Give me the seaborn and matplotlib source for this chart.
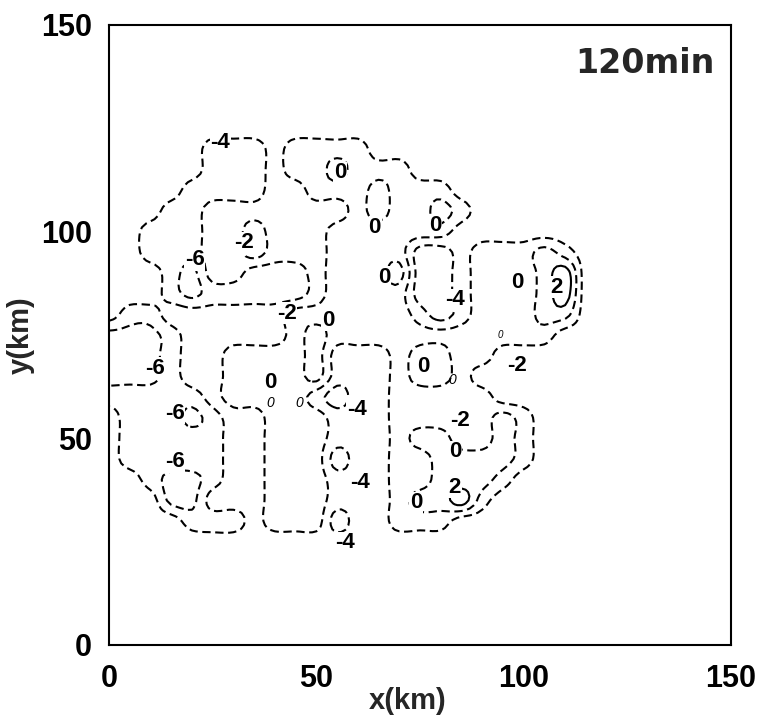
import numpy as np
import matplotlib
matplotlib.use("Agg")
import matplotlib.pyplot as plt
import seaborn as sns

# ---- data -------------------------------------------------------------
grid_step_km = 5
x_km = np.arange(0, 151, grid_step_km)
y_km = np.arange(0, 151, grid_step_km)
background_value = -3.0

# field, rows from y=125 km down to y=25 km,
# columns x = 0..120 km every 5 km (letters are value classes)
value_codes = {"a": -6.6, "b": -5.0, "c": -3.0, "d": -1.0, "e": 0.8, "f": 3.0}
field_rows = [
    "ccccccccccccccccccccccccc",  # 125
    "cccccbbbcddddcccccccccccc",  # 120
    "cccccbbbcddedddcccccccccc",  # 115
    "ccccbbbbccdddedddcccccccc",  # 110
    "cccbbcccccccdeddedccccccc",  # 105
    "ccbbbccdcccddddddcccccccc",  # 100
    "ccbbbccdcccddddbbcdddedcc",  # 95
    "cccbaccbbbcdddebbcdddefcc",  # 90
    "cccbabbbbbcddddbbcdddefcc",  # 85
    "cbbccccccddddddcbcdddeecc",  # 80
    "aaabcccccdedddddddddddccc",  # 75
    "aaabccddddecccdeeddcccccc",  # 70
    "aaabccddddecccdeedccccccc",  # 65
    "bbbbbcddddcbccdddddcccccc",  # 60
    "cbbbabccdddcccdddddedcccc",  # 55
    "cbbbbbccdddcccdeeddedcccc",  # 50
    "cbbbbbccdddbccddeeeedcccc",  # 45
    "ccbaabccdddcccddeeedccccc",  # 40
    "cccaacccdddcccdeefdcccccc",  # 35
    "ccccbbbcdddbccdddcccccccc",  # 30
    "ccccccccccccccccccccccccc",  # 25
]
rows_top_y = 125
contour_levels = [-6, -4, -2, 0, 2]

label_x = [26.8, 55.7, 64.1, 78.6, 32.5, 20.7, 66.3, 98.4, 108.0, 83.4,
           42.9, 52.8, 11.1, 75.7, 98.4, 38.8, 15.9, 59.8, 84.6, 83.4,
           15.9, 60.5, 83.4, 74.0, 56.9]
label_y = [121.5, 114.2, 100.9, 101.6, 97.3, 93.2, 89.0, 87.6, 86.6, 83.5,
           80.3, 78.6, 67.0, 67.3, 67.7, 63.6, 56.1, 56.9, 54.4, 46.7,
           44.3, 39.2, 38.2, 34.4, 24.7]
label_text = ["-4", "0", "0", "0", "-2", "-6", "0", "0", "2", "-4",
              "-2", "0", "-6", "0", "-2", "0", "-6", "-4", "-2", "0",
              "-6", "-4", "2", "0", "-4"]

tiny_loop_x = [82.7, 39.0, 46.0, 94.3]
tiny_loop_y = [64.1, 58.5, 58.5, 75.0]
tiny_loop_size = [10, 10, 10, 7]

tick_values = list(range(0, 151, 10))
tick_labels = [str(v) if v % 50 == 0 else "" for v in tick_values]
panel_title = "120min"

# ---- build field --------------------------------------------------------
Z = np.full((len(y_km), len(x_km)), background_value)
for r, row in enumerate(field_rows):
    yv = rows_top_y - r * grid_step_km
    iy = int(np.where(y_km == yv)[0][0])
    for c, ch in enumerate(row):
        Z[iy, c] = value_codes[ch]


def cubic_weights(n_coarse, factor):
    """Catmull-Rom resampling matrix for drawing smooth contour lines."""
    n_fine = (n_coarse - 1) * factor + 1
    W = np.zeros((n_fine, n_coarse))
    for i in range(n_fine):
        t = i / factor
        i0 = int(np.floor(t))
        for k in range(i0 - 1, i0 + 3):
            d = abs(t - k)
            if d < 1:
                w = 1.5 * d**3 - 2.5 * d**2 + 1
            elif d < 2:
                w = -0.5 * d**3 + 2.5 * d**2 - 4 * d + 2
            else:
                w = 0.0
            W[i, min(max(k, 0), n_coarse - 1)] += w
    return W


factor = 5
Wx = cubic_weights(len(x_km), factor)
Wy = cubic_weights(len(y_km), factor)
Zf = Wy @ Z @ Wx.T
xf = np.linspace(x_km[0], x_km[-1], Wx.shape[0])
yf = np.linspace(y_km[0], y_km[-1], Wy.shape[0])

# ---- plot ---------------------------------------------------------------
sns.set_theme(style="white")
plt.rcParams["font.family"] = ["Liberation Sans", "DejaVu Sans"]
plt.rcParams["axes.linewidth"] = 1.5

fig = plt.figure(figsize=(7.64, 7.18), dpi=100)
ax = fig.add_axes([109 / 764, (718 - 645) / 718, 622 / 764, 620 / 718])

styles = [(0, (4, 2.2)) if lv <= 0 else "solid" for lv in contour_levels]
ax.contour(xf, yf, Zf, levels=contour_levels, colors="black",
           linewidths=1.5, linestyles=styles)

for tx, ty, tt in zip(label_x, label_y, label_text):
    ax.text(tx, ty, tt, ha="center", va="center", fontsize=16,
            fontweight="bold", color="black",
            bbox=dict(facecolor="white", edgecolor="none", pad=0.5))
for tx, ty, ts in zip(tiny_loop_x, tiny_loop_y, tiny_loop_size):
    ax.text(tx, ty, "0", ha="center", va="center", fontsize=ts,
            style="italic", color="black")

ax.set_xlim(0, 150)
ax.set_ylim(0, 150)
ax.set_xticks(tick_values)
ax.set_yticks(tick_values)
ax.set_xticklabels(tick_labels)
ax.set_yticklabels(tick_labels)
ax.tick_params(axis="both", direction="out", length=6.5, width=1.3,
               labelsize=22, pad=6, colors="black")
ax.tick_params(axis="x", pad=7)
for lab in ax.get_xticklabels() + ax.get_yticklabels():
    lab.set_fontweight("bold")
for s in ax.spines.values():
    s.set_visible(True)
    s.set_color("black")

ax.set_xlabel("x(km)", fontsize=21, fontweight="bold", va="center")
ax.set_ylabel("y(km)", fontsize=21, fontweight="bold", labelpad=4)
ax.xaxis.set_label_coords(0.48, -0.09)

ax.text(146.1, 138.4, panel_title, ha="right", va="baseline",
        fontsize=24, fontweight="bold", family="DejaVu Sans")

fig.savefig("out.png", dpi=100, facecolor="white")
